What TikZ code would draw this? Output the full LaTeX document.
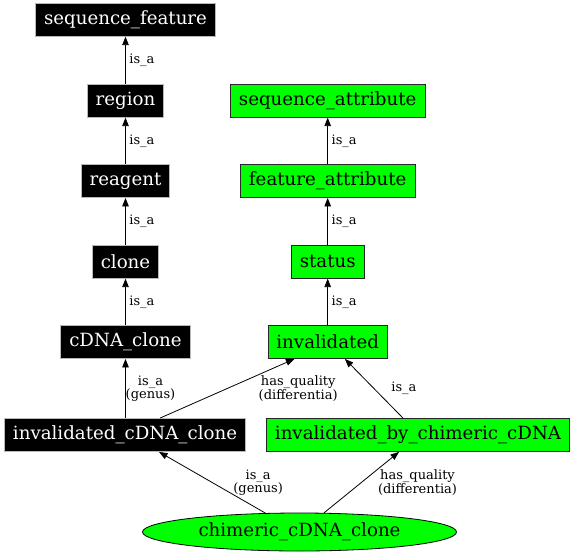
\documentclass[tikz,border=0pt]{standalone}
\usepackage{fontspec}
\setmainfont{DejaVu Serif}
\usepackage{tikz}
\usetikzlibrary{%
	arrows.meta,%
	shapes.geometric,%
	calc%
}

\begin{document}
\begin{tikzpicture}[x=1pt,y=-1pt,>={Triangle[length=8.5pt,width=6.5pt]},line width=0.8pt,
		blackbox/.style={draw=gray!55, fill=black, text=white, minimum height=33pt, inner xsep=8.5pt, font=\fontsize{18.2}{20}\selectfont},
		greenbox/.style={draw=black!85, fill=green, text=black, minimum height=33pt, inner xsep=8.5pt, font=\fontsize{18.2}{20}\selectfont},
		edgelabel/.style={font=\fontsize{13}{13.5}\selectfont, align=center, inner sep=0pt}]
		\useasboundingbox (0,0) rectangle (576,555);
		% left column
		\node [blackbox] (seqfeat) at (125.5,19.7) {sequence\_feature};
		\node [blackbox] (region) at (125.5,100.7) {region};
		\node [blackbox] (reagent) at (125.5,181) {reagent};
		\node [blackbox] (clone) at (125.5,261.7) {clone};
		\node [blackbox] (cdnaclone) at (125.5,342) {cDNA\_clone};
		\node [blackbox] (invcdna) at (125,435) {invalidated\_cDNA\_clone};
		% right column
		\node [greenbox] (seqattr) at (327.7,100.7) {sequence\_attribute};
		\node [greenbox] (featattr) at (327.7,181) {feature\_attribute};
		\node [greenbox] (status) at (327.7,261.7) {status};
		\node [greenbox] (invalid) at (327.7,342) {invalidated};
		\node [greenbox] (invbychim) at (418,435) {invalidated\_by\_chimeric\_cDNA};
		\node [draw=black, fill=green, shape=ellipse, minimum width=314pt, minimum height=38pt, inner sep=0pt, font=\fontsize{18.2}{20}\selectfont] (chim) at (299.5,532) {chimeric\_cDNA\_clone};
		% is_a chains
		\foreach \a/\b in {region/seqfeat,reagent/region,clone/reagent,cdnaclone/clone,featattr/seqattr,status/featattr,invalid/status}{
			\draw [->] (\a) -- (\b) node [midway, right, xshift=3.5pt, edgelabel] {is\_a};
		}
		\draw [->] (invcdna.north -| cdnaclone) -- (cdnaclone) node [midway, xshift=25pt, edgelabel] {is\_a\\(genus)};
		\draw [->] ([xshift=35pt]invcdna.north) -- ([xshift=-33.3pt]invalid.south) node [midway, xshift=71pt, edgelabel] {has\_quality\\(differentia)};
		\draw [->] ([xshift=-15pt]invbychim.north) -- ([xshift=17.2pt]invalid.south) node [midway, xshift=30pt, edgelabel] {is\_a};
		\draw [->] (chim.151.8) -- ([xshift=34pt]invcdna.south) node [midway, xshift=46pt, edgelabel] {is\_a\\(genus)};
		\draw [->] (chim.38.5) -- ([xshift=-19pt]invbychim.south) node [midway, xshift=56pt, edgelabel] {has\_quality\\(differentia)};
	\end{tikzpicture}
\end{document}
